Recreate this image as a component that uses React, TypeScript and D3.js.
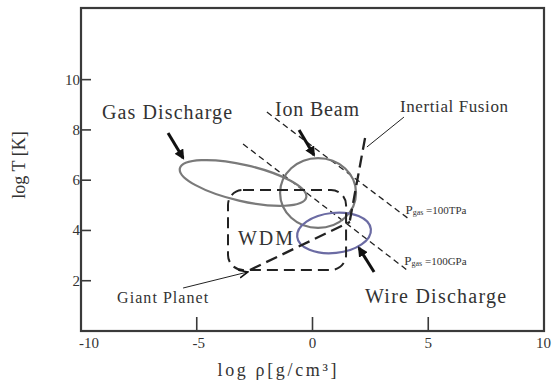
import React from 'react';
import * as d3 from 'd3';

// axis ranges (log rho, log T)
const rhoDomain = [-10, 10];
const tDomain = [0, 12.85];
const rhoTicks = [-10, -5, 0, 5, 10];
const tTicks = [2, 4, 6, 8, 10];

// experiment regions drawn as ellipses
const regionNames = ['Gas Discharge', 'Ion Beam', 'Wire Discharge'];
const regionRho = [-3.0, 0.24, 0.93];
const regionT = [5.89, 5.49, 3.9];
const regionRhoRadius = [2.8, 1.64, 1.6];
const regionTRadius = [0.72, 1.39, 0.8];
const regionTilt = [13, 0, -6];

// warm dense matter box
const wdmRho = [-3.65, 1.45];
const wdmT = [2.43, 5.61];

// isobars
const pgasLabels = ['100TPa', '100GPa'];
const pgasRho = [[-1.97, 4.1], [-3.0, 4.05]];
const pgasT = [[8.71, 4.5], [7.44, 2.45]];

// giant planet and inertial fusion paths
const planetRho = [-2.7, 1.62];
const planetT = [2.43, 4.34];
const fusionRho = [2.27, 1.58];
const fusionT = [7.68, 4.22];

// arrows pointing at the regions: [rho0, T0, rho1, T1]
const arrows = [
  [-6.24, 7.88, -5.59, 6.88],
  [-0.58, 8.0, 0.06, 7.0],
  [2.66, 2.35, 2.01, 3.3],
];

export default function App() {
  const width = 552;
  const height = 380;
  const x = d3.scaleLinear().domain(rhoDomain).range([81, 544]);
  const y = d3.scaleLinear().domain(tDomain).range([331, 8]);
  const line = d3.line<[number, number]>().x(d => x(d[0])).y(d => y(d[1]));

  const ink = '#222';
  const axisColor = '#3a3a3a';
  const regionColors = ['#7a7a7a', '#777', '#6b6ba3'];

  // x tick label nudges (minus sign makes them look off centre)
  const rhoLabelDx = [8, 2, 0, 0, 0];

  const ux = x(1) - x(0);
  const uy = y(0) - y(1);

  return (
    <svg
      width={width}
      height={height}
      style={{ position: 'absolute', left: 0, top: 0, background: '#fff', fontFamily: '"Liberation Serif", "Times New Roman", serif' }}
    >
      <defs>
        <marker id="head" viewBox="0 0 10 10" refX="8" refY="5" markerWidth="3.4" markerHeight="3.4" orient="auto">
          <path d="M0,0 L10,5 L0,10 z" fill="#111" />
        </marker>
        <marker id="open" viewBox="0 0 10 10" refX="9" refY="5" markerWidth="10" markerHeight="10" markerUnits="userSpaceOnUse" orient="auto">
          <path d="M0,1 L9,5 L0,9" fill="none" stroke="#111" strokeWidth="1.6" />
        </marker>
      </defs>

      {/* frame */}
      <rect x={x(-10)} y={y(tDomain[1])} width={x(10) - x(-10)} height={y(0) - y(tDomain[1])}
        fill="none" stroke={axisColor} strokeWidth={2.2} />

      {/* x ticks */}
      {rhoTicks.map((t, i) => (
        <g key={'xt' + t}>
          {t > -10 && t < 10 && (
            <line x1={x(t)} x2={x(t)} y1={y(0)} y2={y(0) - 14} stroke={axisColor} strokeWidth={1.6} />
          )}
          {t === 10 ? (
            <text x={551} y={348} textAnchor="end" fontSize={15} fill="#333">{t}</text>
          ) : (
            <text x={x(t) + rhoLabelDx[i]} y={348} textAnchor="middle" fontSize={15} fill="#333">{t}</text>
          )}
        </g>
      ))}

      {/* y ticks */}
      {tTicks.map(t => (
        <g key={'yt' + t}>
          <line x1={x(-10)} x2={x(-10) + 10} y1={y(t)} y2={y(t)} stroke={axisColor} strokeWidth={1.6} />
          <text x={x(-10) - 1} y={y(t) + 5} textAnchor="end" fontSize={15} fill="#333">{t}</text>
        </g>
      ))}

      {/* axis titles */}
      <text x={277} y={376} textAnchor="middle" fontSize={18} fill="#333" textLength={119} lengthAdjust="spacing">log ρ[g/cm³]</text>
      <text transform="translate(25,165) rotate(-90)" textAnchor="middle" fontSize={18} fill="#333">log T [K]</text>

      {/* isobars */}
      {pgasLabels.map((lab, i) => {
        const pts: [number, number][] = pgasRho[i].map((r, j) => [r, pgasT[i][j]]);
        return (
          <g key={lab}>
            <path d={line(pts) || ''} fill="none" stroke={ink} strokeWidth={1.3} strokeDasharray="6 4" />
            <text x={x(pgasRho[i][1]) - 2} y={y(pgasT[i][1]) - 4} fontSize={13} fill="#333">
              P<tspan fontSize={8} dy={1}>gas</tspan><tspan fontSize={11} dy={-1}> =</tspan><tspan fontSize={11}>{lab}</tspan>
            </text>
          </g>
        );
      })}

      {/* regions */}
      {regionNames.map((n, i) => (
        <ellipse key={n}
          cx={0} cy={0}
          rx={regionRhoRadius[i] * ux} ry={regionTRadius[i] * uy}
          transform={`translate(${x(regionRho[i])},${y(regionT[i])}) rotate(${regionTilt[i]})`}
          fill="none" stroke={regionColors[i]} strokeWidth={2.2} />
      ))}

      {/* WDM box */}
      <rect x={x(wdmRho[0])} y={y(wdmT[1])} width={x(wdmRho[1]) - x(wdmRho[0])} height={y(wdmT[0]) - y(wdmT[1])}
        rx={15} ry={15} fill="none" stroke={ink} strokeWidth={2} strokeDasharray="11 6" />
      <text x={x(-3.22)} y={y(3.42)} fontSize={20} fill="#333" textLength={55} lengthAdjust="spacing">WDM</text>

      {/* giant planet track */}
      <path d={line(planetRho.map((r, j) => [r, planetT[j]]) as [number, number][]) || ''}
        fill="none" stroke={ink} strokeWidth={2.3} strokeDasharray="12 6" />
      <path d={line([[-5.59, 1.71], [-2.79, 2.35]]) || ''} fill="none" stroke={ink} strokeWidth={1} markerEnd="url(#open)" />
      <text x={x(-8.44)} y={y(1.11)} fontSize={16} fill="#333" textLength={91} lengthAdjust="spacing">Giant Planet</text>

      {/* inertial fusion track */}
      <path d={line(fusionRho.map((r, j) => [r, fusionT[j]]) as [number, number][]) || ''}
        fill="none" stroke={ink} strokeWidth={2.3} strokeDasharray="12 6" />
      <path d={line([[3.95, 8.51], [2.35, 7.32]]) || ''} fill="none" stroke={ink} strokeWidth={1} />
      <text x={x(3.78)} y={y(8.71)} fontSize={17} fill="#333" textLength={108} lengthAdjust="spacing">Inertial Fusion</text>

      {/* region labels and arrows */}
      {arrows.map((a, i) => (
        <path key={'ar' + i} d={line([[a[0], a[1]], [a[2], a[3]]]) || ''} fill="none" stroke="#111" strokeWidth={3} markerEnd="url(#head)" />
      ))}
      <text x={x(-9.09)} y={y(8.43)} fontSize={20} fill="#333" textLength={130} lengthAdjust="spacing">{regionNames[0]}</text>
      <text x={x(-1.62)} y={y(8.55)} fontSize={20} fill="#333" textLength={84} lengthAdjust="spacing">{regionNames[1]}</text>
      <text x={x(2.27)} y={y(1.11)} fontSize={20} fill="#333" textLength={141} lengthAdjust="spacing">{regionNames[2]}</text>
    </svg>
  );
}
